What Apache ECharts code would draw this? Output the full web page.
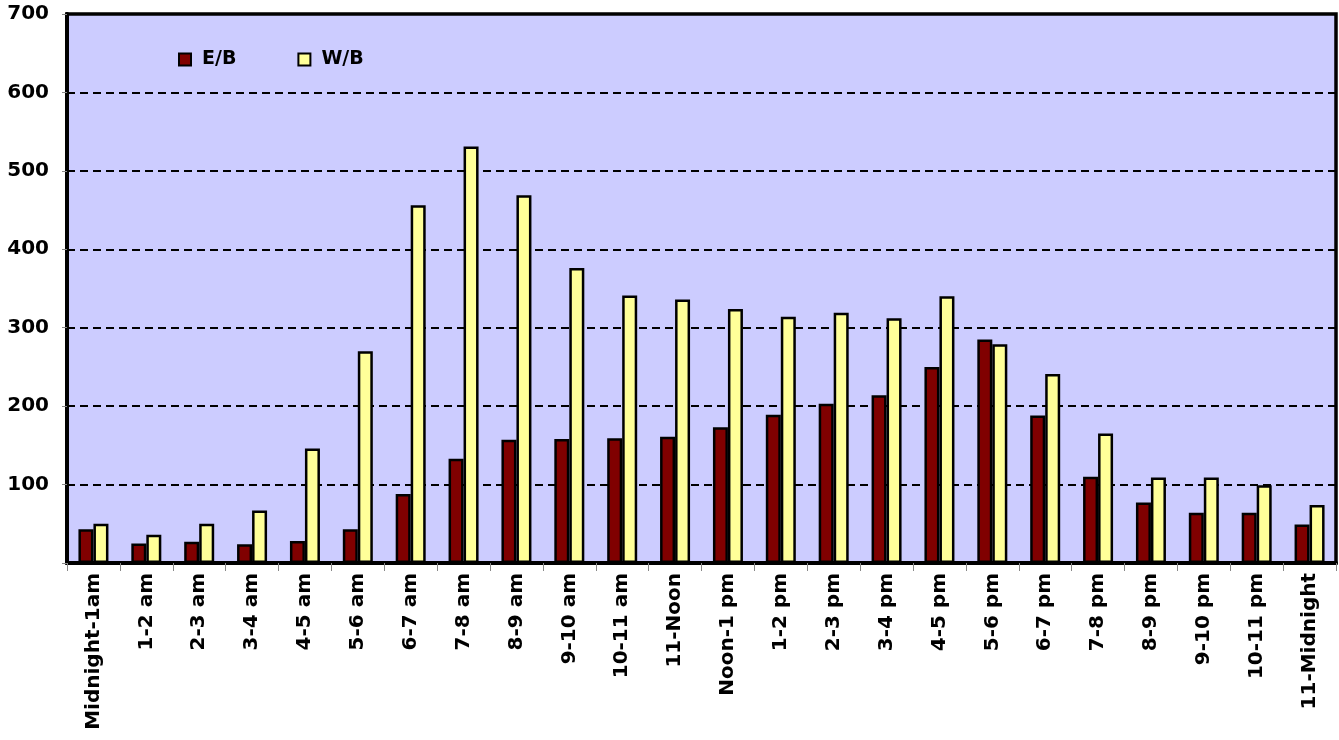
<!DOCTYPE html>
<html><head><meta charset="utf-8">
<script src="https://cdn.jsdelivr.net/npm/echarts@6/dist/echarts.min.js"></script>
<style>html,body{margin:0;padding:0;background:#fff}#c{width:1339px;height:740px}</style>
</head><body><div id="c"></div>
<script>
const categories = ["Midnight-1am","1-2 am","2-3 am","3-4 am","4-5 am","5-6 am","6-7 am","7-8 am","8-9 am","9-10 am","10-11 am","11-Noon","Noon-1 pm","1-2 pm","2-3 pm","3-4 pm","4-5 pm","5-6 pm","6-7 pm","7-8 pm","8-9 pm","9-10 pm","10-11 pm","11-Midnight"];
const eb = [43,25,27,24,28,43,88,133,157,158,159,161,173,189,203,214,250,285,188,110,77,64,64,49];
const wb = [50,36,50,67,146,270,456,531,469,376,341,336,324,314,319,312,340,279,241,165,109,109,99,74];
const yTicks = [0,100,200,300,400,500,600,700];

const chart = echarts.init(document.getElementById('c'));
const font = '"DejaVu Sans", sans-serif';
chart.setOption({
  animation: false,
  backgroundColor: '#fff',
  grid: {left: 67, right: 3, top: 14, bottom: 177, show: true, backgroundColor: '#CCCCFF', borderColor: '#000', borderWidth: 3.5},
  legend: {
    data: ['E/B','W/B'], left: 173, top: 45, icon: 'rect', itemWidth: 12, itemHeight: 12, itemGap: 61,
    textStyle: {fontFamily: font, fontWeight: 'bold', fontSize: 19, color: '#000', padding: [0, 0, 0, 6]},
    itemStyle: {borderColor: '#000', borderWidth: 2}
  },
  xAxis: {
    type: 'category', data: categories,
    axisLine: {lineStyle: {color: '#000', width: 4}},
    axisTick: {show: true, alignWithLabel: false, length: 8, lineStyle: {color: '#888', width: 1}},
    axisLabel: {rotate: 90, fontFamily: font, fontWeight: 'bold', fontSize: 20, color: '#000', margin: 10, interval: 0}
  },
  yAxis: {
    type: 'value', min: yTicks[0], max: yTicks[yTicks.length-1], interval: 100,
    axisLine: {show: true, lineStyle: {color: '#000', width: 4}},
    axisTick: {show: true, length: 5, lineStyle: {color: '#888', width: 1}},
    axisLabel: {fontFamily: font, fontWeight: 'bold', fontSize: 20, color: '#000', margin: 18,
      formatter: v => v === 0 ? '' : String(v)},
    splitLine: {show: true, lineStyle: {color: '#000', type: [8, 5], width: 2}}
  },
  series: [
    {name: 'E/B', type: 'bar', data: eb, barWidth: 15, barGap: '0%',
     itemStyle: {color: '#800000', borderColor: '#000', borderWidth: 2.5}},
    {name: 'W/B', type: 'bar', data: wb, barWidth: 15, barGap: '0%',
     itemStyle: {color: '#FFFF99', borderColor: '#000', borderWidth: 2.5}}
  ]
});
</script></body></html>
